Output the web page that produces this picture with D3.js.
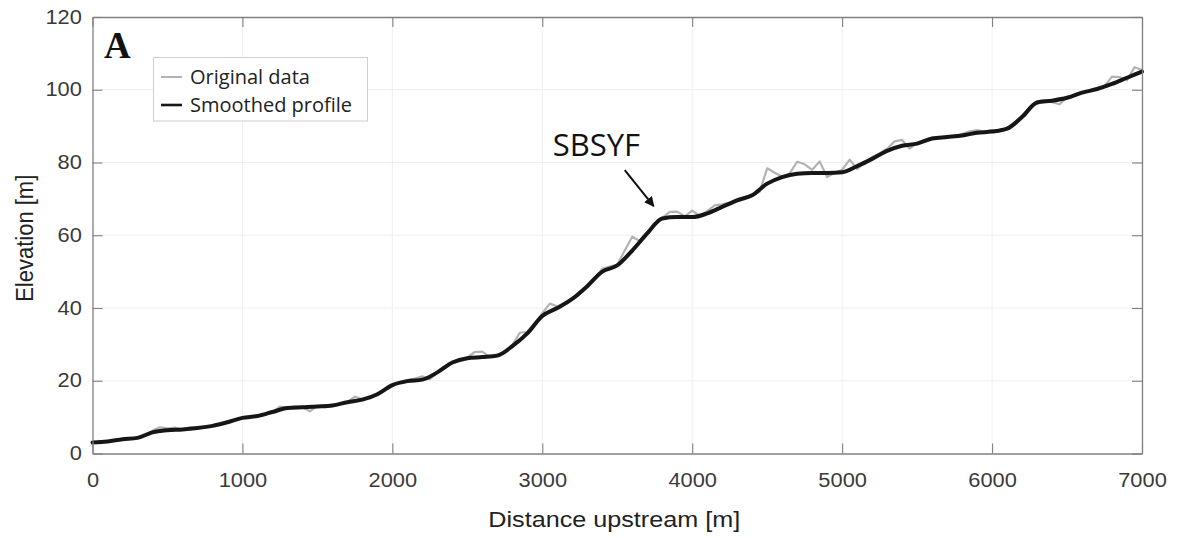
<!DOCTYPE html>
<html>
<head>
<meta charset="utf-8">
<script src="https://cdn.jsdelivr.net/npm/d3@7"></script>
<style>
  html, body { margin: 0; padding: 0; background: #fff; }
  svg { display: block; }
</style>
</head>
<body>
<svg id="chart" width="1180" height="538"></svg>
<script>
// ---------- DATA ----------
const xTicks = [0, 1000, 2000, 3000, 4000, 5000, 6000, 7000];
const yTicks = [0, 20, 40, 60, 80, 100, 120];

// Smoothed profile (every 100 m)
const smoothDist = d3.range(0, 7001, 100);
const smoothElev = [
  3.0, 3.3, 3.9, 4.3, 5.8, 6.4, 6.6, 7.0, 7.6, 8.6,
  9.8, 10.3, 11.4, 12.5, 12.7, 12.9, 13.2, 14.1, 14.8, 16.3,
  18.8, 19.9, 20.3, 22.3, 25.0, 26.2, 26.5, 26.9, 29.5, 33.0,
  37.8, 40.0, 42.5, 46.0, 50.0, 51.7, 55.8, 60.5, 64.6, 65.0,
  65.0, 66.0, 67.8, 69.6, 71.0, 74.2, 76.0, 76.9, 77.1, 77.1,
  77.3, 79.0, 81.0, 83.2, 84.6, 85.2, 86.6, 87.0, 87.4, 88.2,
  88.5, 89.3, 92.5, 96.5, 97.0, 97.8, 99.2, 100.2, 101.6, 103.3,
  105.0
];

// Original data (every 50 m)
const origDist = d3.range(0, 7001, 50);
const origElev = [
  3.0, 3.1, 3.3, 3.6, 3.9, 4.1, 4.3, 4.9, 6.3, 7.2,
  6.9, 7.1, 6.6, 7.2, 7.0, 7.3, 7.6, 8.1, 8.6, 9.3,
  9.8, 10.1, 10.3, 10.6, 11.4, 12.9, 12.6, 12.9, 12.8, 11.6,
  13.1, 12.9, 13.2, 13.6, 14.1, 15.6, 15.0, 15.2, 16.3, 17.6,
  18.8, 19.7, 20.2, 20.6, 21.2, 20.4, 22.3, 24.0, 25.2, 25.8,
  26.4, 27.9, 28.0, 26.5, 27.2, 27.8, 29.8, 33.2, 33.4, 35.8,
  38.6, 41.2, 40.5, 41.3, 42.6, 44.3, 46.2, 48.1, 50.8, 51.4,
  51.9, 55.8, 59.6, 58.4, 60.8, 62.8, 64.8, 66.4, 66.5, 65.2,
  66.8, 65.3, 66.6, 68.2, 68.5, 69.0, 69.9, 70.5, 71.2, 72.0,
  78.4, 77.2, 76.1, 77.0, 80.2, 79.5, 78.0, 80.3, 76.0, 77.2,
  78.0, 80.8, 78.2, 80.0, 81.5, 82.5, 83.8, 85.8, 86.2, 83.8,
  85.4, 86.2, 86.8, 86.9, 87.2, 87.3, 87.8, 88.6, 88.9, 88.5,
  88.9, 88.6, 89.6, 91.0, 92.9, 94.8, 96.8, 97.1, 96.6, 96.0,
  97.9, 98.6, 99.3, 99.7, 100.3, 101.0, 103.6, 103.5, 102.6, 106.2,
  105.5
];

const seriesNames = ["Original data", "Smoothed profile"];
const annotationText = "SBSYF";
const annotationPos = [3070, 81.7];
const arrowFrom = [3550, 77.9];
const arrowTo = [3743, 68.0];
const panelLabel = "A";
const xLabel = "Distance upstream [m]";
const yLabel = "Elevation [m]";

// ---------- LAYOUT ----------
const M = { left: 92.5, right: 1142, top: 17, bottom: 453.5 };
const stretch = 1.12;
const axisColor = "#808080";
const textColor = "#3a3a3a";

const svg = d3.select("#chart");

const x = d3.scaleLinear().domain([0, 7000]).range([M.left, M.right]);
const y = d3.scaleLinear().domain([0, 120]).range([M.bottom, M.top]);

// Grid
const grid = svg.append("g");
grid.selectAll("line.gx").data(xTicks.slice(1, -1)).join("line")
  .attr("class", "gx")
  .attr("x1", d => x(d)).attr("x2", d => x(d))
  .attr("y1", M.top).attr("y2", M.bottom)
  .attr("stroke", "#eeeeee").attr("stroke-width", 1);
grid.selectAll("line.gy").data(yTicks.slice(1, -1)).join("line")
  .attr("class", "gy")
  .attr("x1", M.left).attr("x2", M.right)
  .attr("y1", d => y(d)).attr("y2", d => y(d))
  .attr("stroke", "#eeeeee").attr("stroke-width", 1);

// Lines
const origData = origDist.map((d, i) => [d, origElev[i]]);
const smoothData = smoothDist.map((d, i) => [d, smoothElev[i]]);

svg.append("path")
  .datum(origData)
  .attr("fill", "none")
  .attr("stroke", "#b3b3b3")
  .attr("stroke-width", 2.2)
  .attr("stroke-linejoin", "round")
  .attr("d", d3.line().x(d => x(d[0])).y(d => y(d[1])));

svg.append("path")
  .datum(smoothData)
  .attr("fill", "none")
  .attr("stroke", "#161616")
  .attr("stroke-width", 4)
  .attr("stroke-linejoin", "round")
  .attr("stroke-linecap", "round")
  .attr("d", d3.line().curve(d3.curveMonotoneX).x(d => x(d[0])).y(d => y(d[1])));

// Axes
function styleAxis(g, hideText) {
  g.select(".domain").attr("stroke", axisColor).attr("stroke-width", 1.3);
  g.selectAll(".tick line").attr("stroke", axisColor).attr("stroke-width", 1.1);
  if (hideText) g.selectAll(".tick text").remove();
  else g.selectAll(".tick text")
    .attr("fill", textColor)
    .attr("font-family", "'Liberation Sans', Arial, sans-serif")
    .attr("font-size", 19.5);
}

const gx = svg.append("g").attr("transform", `translate(0,${M.bottom})`)
  .call(d3.axisBottom(x).tickValues(xTicks).tickSize(-10).tickSizeOuter(0).tickPadding(20).tickFormat(d3.format("d")));
styleAxis(gx, false);
gx.selectAll(".tick text").attr("transform", `scale(${stretch},1)`);

const gy = svg.append("g").attr("transform", `translate(${M.left},0)`)
  .call(d3.axisLeft(y).tickValues(yTicks).tickSize(-10).tickSizeOuter(0).tickPadding(9.5).tickFormat(d3.format("d")));
styleAxis(gy, false);
gy.selectAll(".tick text").attr("transform", `scale(${stretch},1)`);

const gt = svg.append("g").attr("transform", `translate(0,${M.top})`)
  .call(d3.axisTop(x).tickValues(xTicks).tickSize(-10).tickSizeOuter(0));
styleAxis(gt, true);

const gr = svg.append("g").attr("transform", `translate(${M.right},0)`)
  .call(d3.axisRight(y).tickValues(yTicks).tickSize(-10).tickSizeOuter(0));
styleAxis(gr, true);

// Axis labels
svg.append("text")
  .attr("transform", `translate(${(M.left + M.right) / 2 - 3},527) scale(${stretch},1)`)
  .attr("text-anchor", "middle")
  .attr("font-family", "'Liberation Sans', Arial, sans-serif")
  .attr("font-size", 22.5)
  .attr("fill", "#222")
  .text(xLabel);

svg.append("text")
  .attr("transform", `translate(33,${(M.top + M.bottom) / 2 + 3}) scale(${stretch},1) rotate(-90)`)
  .attr("text-anchor", "middle")
  .attr("font-family", "'Liberation Sans', Arial, sans-serif")
  .attr("font-size", 22)
  .attr("fill", "#222")
  .text(yLabel);

// Panel label
svg.append("text")
  .attr("x", 104).attr("y", 58)
  .attr("font-family", "'Liberation Serif', 'Times New Roman', serif")
  .attr("font-weight", "bold")
  .attr("font-size", 37)
  .attr("fill", "#111")
  .text(panelLabel);

// Legend
const lg = svg.append("g");
lg.append("rect")
  .attr("x", 153.5).attr("y", 57.5).attr("width", 214).attr("height", 63.5)
  .attr("fill", "#fff").attr("stroke", "#cfcfcf").attr("stroke-width", 1);
const legendColors = ["#b3b3b3", "#161616"];
const legendWidths = [2, 2.6];
seriesNames.forEach((name, i) => {
  const cy = 77 + i * 28;
  lg.append("line")
    .attr("x1", 161).attr("x2", 182).attr("y1", cy).attr("y2", cy)
    .attr("stroke", legendColors[i]).attr("stroke-width", legendWidths[i]);
  lg.append("text")
    .attr("x", 190).attr("y", cy + 7)
    .attr("font-family", "'Open Sans', 'Noto Sans', sans-serif")
    .attr("font-size", 20)
    .attr("fill", "#222")
    .text(name);
});

// Annotation
svg.append("text")
  .attr("x", x(annotationPos[0])).attr("y", y(annotationPos[1]))
  .attr("font-family", "'Open Sans', 'Noto Sans', sans-serif")
  .attr("font-size", 31)
  .attr("fill", "#111")
  .text(annotationText);

svg.append("defs").append("marker")
  .attr("id", "arrow")
  .attr("viewBox", "0 0 10 10")
  .attr("refX", 9).attr("refY", 5)
  .attr("markerWidth", 5).attr("markerHeight", 5)
  .attr("markerUnits", "strokeWidth")
  .attr("orient", "auto")
  .append("path").attr("d", "M0,0 L10,5 L0,10 z").attr("fill", "#111");

svg.append("line")
  .attr("x1", x(arrowFrom[0])).attr("y1", y(arrowFrom[1]))
  .attr("x2", x(arrowTo[0])).attr("y2", y(arrowTo[1]))
  .attr("stroke", "#111").attr("stroke-width", 2)
  .attr("marker-end", "url(#arrow)");
</script>
</body>
</html>
